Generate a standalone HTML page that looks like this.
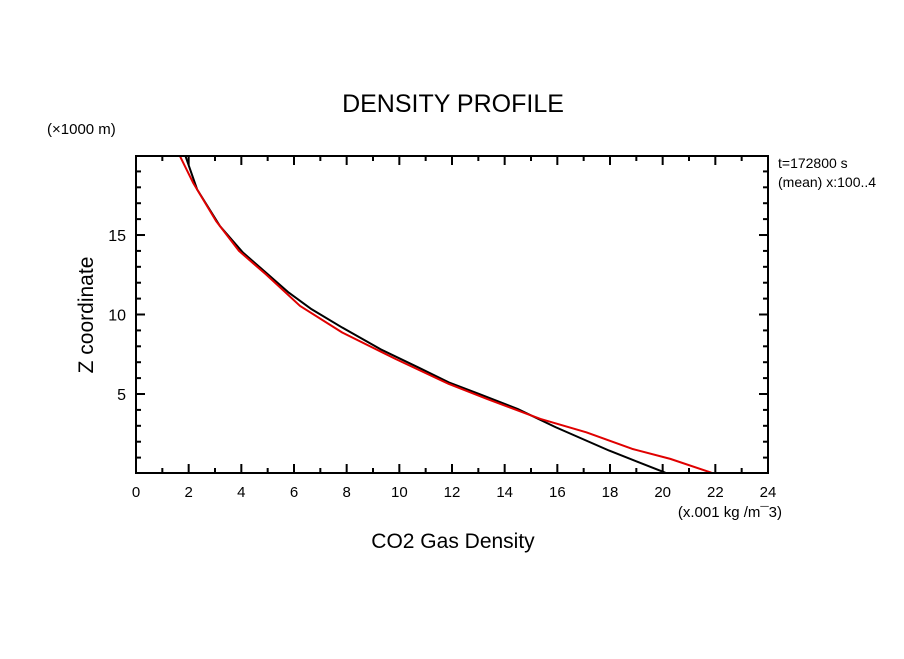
<!DOCTYPE html>
<html><head><meta charset="utf-8"><style>
body{margin:0;background:#fff}
svg text{font-family:"Liberation Sans",sans-serif;fill:#000}
</style></head><body>
<svg id="chart" width="904" height="654">
<text x="453" y="112" font-size="25" text-anchor="middle">DENSITY PROFILE</text>
<text x="47" y="134" font-size="15">(×1000 m)</text>
<text x="778" y="168" font-size="14">t=172800 s</text>
<text x="778" y="187" font-size="14">(mean) x:100..4</text>
<text x="782" y="517" font-size="15" text-anchor="end">(x.001 kg /m¯3)</text>
<text x="453" y="548" font-size="21" text-anchor="middle">CO2 Gas Density</text>
<text transform="translate(93,315) rotate(-90)" font-size="21" text-anchor="middle">Z coordinate</text>
<g id="ticks"></g>
<g id="series"></g>
<rect x="136" y="156" width="632" height="317" fill="none" stroke="#000" stroke-width="2"/>
</svg>
<script>
const blackZ=[19.96,17.87,15.56,13.9,12.64,11.38,10.33,9.18,7.82,6.67,5.73,5.0,4.06,2.91,1.44,0.05];
const blackDensity=[1.88,2.32,3.19,4.06,4.93,5.80,6.67,7.83,9.28,10.72,11.88,13.04,14.49,15.94,17.97,20.1];
const redZ=[19.96,18.28,15.88,14.0,12.53,10.54,8.87,7.2,5.63,4.69,3.43,2.59,1.55,0.92,0.05];
const redDensity=[1.67,2.17,3.04,3.91,4.93,6.23,7.83,9.86,11.88,13.33,15.36,17.1,18.84,20.29,21.85];
const xTicks=[0,2,4,6,8,10,12,14,16,18,20,22,24];
const yTicks=[5,10,15];
const X0=136,X1=768,Y0=473.5,Y1=156;
const xs=v=>X0+(v-0)/24*(X1-X0);
const ys=v=>Y0-(v-0)/19.97*(Y0-Y1);
const NS="http://www.w3.org/2000/svg";
const tg=document.getElementById('ticks');
function line(x1,y1,x2,y2,name){const l=document.createElementNS(NS,'line');
l.setAttribute('x1',x1);l.setAttribute('y1',y1);l.setAttribute('x2',x2);l.setAttribute('y2',y2);
l.setAttribute('stroke','#000');l.setAttribute('stroke-width','2');


tg.appendChild(l);}
for(let v=0;v<=24;v++){const maj=v%2==0;const L=maj?9:5;const x=xs(v);
line(x,473,x,473-L,'x-tick');line(x,156,x,156+L,'x-tick-top');}
for(let v=1;v<=19;v++){const maj=v%5==0;const L=maj?9:5;const y=ys(v);
line(136,y,136+L,y,'y-tick');line(768,y,768-L,y,'y-tick-right');}
xTicks.forEach(v=>{const t=document.createElementNS(NS,'text');t.setAttribute('x',xs(v));t.setAttribute('y',497);
t.setAttribute('font-size','15');t.setAttribute('text-anchor','middle');t.textContent=v;


tg.appendChild(t);});
yTicks.forEach(v=>{const t=document.createElementNS(NS,'text');t.setAttribute('x',126);t.setAttribute('y',ys(v)+6);
t.setAttribute('font-size','16');t.setAttribute('text-anchor','end');t.textContent=v;


tg.appendChild(t);});
const sg=document.getElementById('series');
function series(vals,zs,color,name){const p=document.createElementNS(NS,'polyline');
p.setAttribute('points',vals.map((v,i)=>xs(v)+','+ys(zs[i])).join(' '));
p.setAttribute('fill','none');p.setAttribute('stroke',color);p.setAttribute('stroke-width','2');
p.setAttribute('stroke-linejoin','round');


sg.appendChild(p);}
series(blackDensity,blackZ,'#000','density-line-black');
series(redDensity,redZ,'#e00000','density-line-red');
</script>
</body></html>
